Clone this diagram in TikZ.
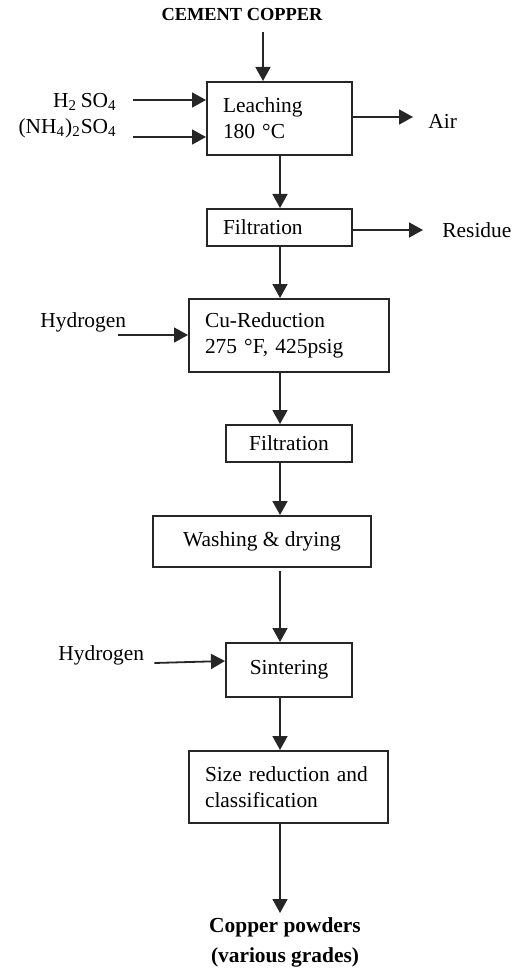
\documentclass[tikz,border=0pt]{standalone}
\usepackage{fontspec}
\setmainfont{Liberation Serif}
\usetikzlibrary{arrows.meta}

\begin{document}
\begin{tikzpicture}[x=0.5pt, y=-0.5pt,
    box/.style={draw=black!85, line width=1pt, inner xsep=8pt, inner ysep=0pt,
        font=\fontsize{10.7}{13}\selectfont},
    lab/.style={inner sep=2pt, font=\fontsize{10.7}{13}\selectfont},
    flow/.style={draw=black!85, line width=0.9pt, -{Triangle[length=7pt, width=7.5pt]}}]
    \useasboundingbox (0,0) rectangle (511,968);

    % vertical line of the main stream
    \coordinate (spine) at (280,0);
    \coordinate (cctop) at (263,32);

    % Process boxes
    \node[box, minimum width=72.5pt, minimum height=36.5pt, text width=56.5pt, align=left] (leach) at (279.5,118.5) {Leaching\\180~°C};
    \node[box, minimum width=72.5pt, minimum height=18.5pt, text width=56.5pt, align=left] (filt1) at (279.5,227.5) {Filtration};
    \node[box, minimum width=100pt, minimum height=36.5pt, text width=84pt, align=left] (cured) at (289,335.5) {Cu-Reduction\\275~°F, 425psig};
    \node[box, minimum width=63pt, minimum height=18.5pt] (filt2) at (289,443.5) {Filtration};
    \node[box, minimum width=109pt, minimum height=25.5pt] (wash) at (262,541.5) {Washing \& drying};
    \node[box, minimum width=63pt, minimum height=27pt] (sint) at (289,670) {Sintering};
    \node[box, minimum width=99.5pt, minimum height=36pt, text width=83.5pt, align=left] (size) at (288.5,787) {Size reduction and\\classification};

    % Feed, inputs and outputs
    \node[lab, font=\fontsize{9.2}{11}\selectfont\bfseries] (cement) at (242,15) {CEMENT COPPER};
    \node[lab, anchor=east] (h2so4) at (121,102) {H\textsubscript{2}\,SO\textsubscript{4}};
    \node[lab, anchor=east] (nh4) at (121,128) {(NH\textsubscript{4})\textsubscript{2}SO\textsubscript{4}};
    \node[lab, anchor=west] (air) at (424,121) {Air};
    \node[lab, anchor=west] (residue) at (438,230) {Residue};
    \node[lab, anchor=west] (hyd1) at (36,322) {Hydrogen};
    \node[lab, anchor=west] (hyd2) at (54,655) {Hydrogen};
    \node[lab, anchor=north, align=center, font=\fontsize{10.7}{15}\selectfont\bfseries] (prod) at (285,913) {Copper powders\\(various grades)};

    % Main stream
    \draw[flow] (cctop) -- (cctop |- leach.north);
    \draw[flow] (leach.south -| spine) -- (filt1.north -| spine);
    \draw[flow] (filt1.south -| spine) -- (cured.north -| spine);
    \draw[flow] (cured.south -| spine) -- (filt2.north -| spine);
    \draw[flow] (filt2.south -| spine) -- (wash.north -| spine);
    \draw[flow] ([yshift=-1.5pt]wash.south -| spine) -- (sint.north -| spine);
    \draw[flow] (sint.south -| spine) -- (size.north -| spine);
    \draw[flow] (size.south -| spine) -- (prod.north -| spine);

    % Side streams
    \draw[flow] ([shift={(6pt,1pt)}]h2so4.east) -- ([yshift=1pt]h2so4.east -| leach.west);
    \draw[flow] ([shift={(6pt,-4.5pt)}]nh4.east) -- ([yshift=-4.5pt]nh4.east -| leach.west);
    \draw[flow] ([yshift=0.75pt]leach.east) -- ([shift={(-5.5pt,0.75pt)}]leach.east -| air.west);
    \draw[flow] ([yshift=-1.25pt]filt1.east) -- ([shift={(-7.5pt,-1.25pt)}]filt1.east -| residue.west);
    \draw[flow] ([shift={(-6pt,0.25pt)}]hyd1.east |- cured.west) -- ([yshift=0.25pt]cured.west);
    \draw[flow] ([shift={(3pt,-4pt)}]hyd2.east) -- ([yshift=4.5pt]sint.west);

\end{tikzpicture}
\end{document}
